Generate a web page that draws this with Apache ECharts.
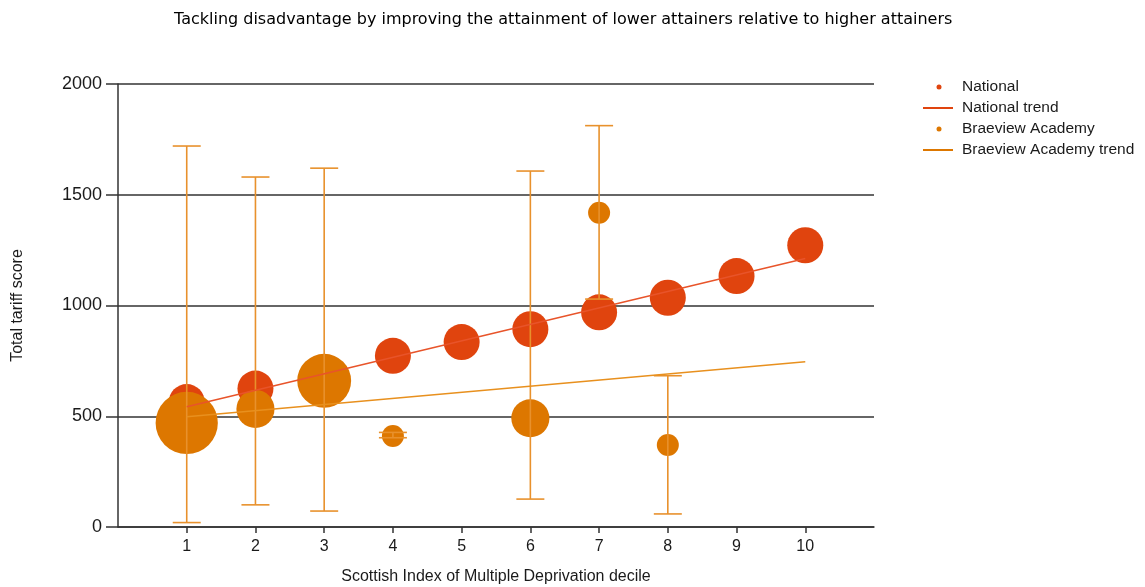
<!DOCTYPE html>
<html>
<head>
<meta charset="utf-8">
<title>Tackling disadvantage</title>
<script src="https://cdn.jsdelivr.net/npm/echarts@6/dist/echarts.min.js"></script>
<style>
  html, body { margin: 0; padding: 0; background: #ffffff; }
  #chart { width: 1145px; height: 587px; }
</style>
</head>
<body>
<div id="chart"></div>
<script>
// SIMD deciles on the x axis
const deciles = [1, 2, 3, 4, 5, 6, 7, 8, 9, 10];

// National average total tariff score per decile
const nationalScores = [564, 625, 695, 773, 835, 893, 969, 1035, 1133, 1272];

// Braeview Academy: deciles with pupils, mean score, range and pupil count
const braeviewDeciles = [1, 2, 3, 4, 6, 7, 8];
const braeviewScores  = [470, 533, 660, 411, 491, 1419, 370];
const braeviewLow     = [20, 100, 72, 403, 126, 1029, 59];
const braeviewHigh    = [1720, 1580, 1620, 427, 1607, 1812, 683];
const braeviewPupils  = [8, 3, 6, 1, 3, 1, 1];

// Linear trend lines, given by their end points at decile 1 and decile 10
const trendDeciles   = [1, 10];
const nationalTrend  = [543, 1212];
const braeviewTrend  = [498, 746];

const yTicks = [0, 500, 1000, 1500, 2000];

const RED = '#E0440E';
const ORANGE = '#DD7700';
const BAR = '#E8912C';
const FONT = '"Liberation Sans", Arial, sans-serif';

const nationalData = deciles.map((d, i) => [d, nationalScores[i]]);
const braeviewData = braeviewDeciles.map((d, i) => [d, braeviewScores[i], braeviewPupils[i]]);
const rangeData = braeviewDeciles.map((d, i) => [d, braeviewLow[i], braeviewHigh[i]]);
const nationalTrendData = trendDeciles.map((d, i) => [d, nationalTrend[i]]);
const braeviewTrendData = trendDeciles.map((d, i) => [d, braeviewTrend[i]]);

const chart = echarts.init(document.getElementById('chart'), null, { renderer: 'canvas' });

// One legend block per entry: dots for the bubble series, short lines for trends
function legendItem(name, top, isLine) {
  return {
    data: [{ name: name, icon: isLine ? 'rect' : 'circle' }],
    left: isLine ? 923 : 936.5,
    top: top,
    orient: 'vertical',
    itemWidth: isLine ? 30 : 5,
    itemHeight: isLine ? 2 : 5,
    itemGap: 0,
    padding: 0,
    selectedMode: false,
    textStyle: {
      fontFamily: FONT, fontSize: 15.5, color: '#1a1a1a',
      padding: [0, 0, 0, isLine ? 4 : 15.5]
    }
  };
}

chart.setOption({
  animation: false,
  backgroundColor: '#ffffff',
  title: {
    text: 'Tackling disadvantage by improving the attainment of lower attainers relative to higher attainers',
    left: 169,
    top: 7,
    textStyle: { fontFamily: '"DejaVu Sans", sans-serif', fontSize: 16, fontWeight: 'normal', color: '#000000' }
  },
  legend: [
    legendItem('National', 79, false),
    legendItem('National trend', 100, true),
    legendItem('Braeview Academy', 121, false),
    legendItem('Braeview Academy trend', 142, true)
  ],
  grid: {
    left: 118, right: 271, top: 84, bottom: 60,
    containLabel: false,
    outerBoundsMode: 'none'
  },
  xAxis: {
    type: 'value',
    min: 0,
    max: 11,
    interval: 1,
    name: 'Scottish Index of Multiple Deprivation decile',
    nameLocation: 'middle',
    nameGap: 42,
    nameTextStyle: { fontFamily: FONT, fontSize: 16, color: '#1a1a1a' },
    splitLine: { show: false },
    axisLine: { show: true, lineStyle: { color: '#333333', width: 1.5 } },
    axisTick: { show: true, customValues: deciles, length: 6, lineStyle: { color: '#333333', width: 1.5 } },
    axisLabel: {
      customValues: deciles,
      margin: 12,
      fontFamily: FONT, fontSize: 16, color: '#1a1a1a'
    }
  },
  yAxis: {
    type: 'value',
    min: 0,
    max: 2000,
    interval: 500,
    name: 'Total tariff score',
    nameLocation: 'middle',
    nameGap: 92,
    nameTextStyle: { fontFamily: FONT, fontSize: 16, color: '#1a1a1a' },
    axisLine: { show: true, lineStyle: { color: '#333333', width: 1.5 } },
    axisTick: { show: true, length: 12, lineStyle: { color: '#333333', width: 1.5 } },
    axisLabel: {
      margin: 16,
      fontFamily: FONT, fontSize: 18, color: '#1a1a1a',
      formatter: v => (yTicks.indexOf(v) >= 0 ? String(v) : '')
    },
    splitLine: { show: true, lineStyle: { color: '#333333', width: 1.5 } }
  },
  series: [
    {
      name: 'National',
      type: 'scatter',
      data: nationalData,
      symbolSize: 36,
      itemStyle: { color: RED, opacity: 1 },
      z: 2
    },
    {
      name: 'Braeview Academy',
      type: 'scatter',
      data: braeviewData,
      // bubble area proportional to the number of pupils
      symbolSize: v => 22 * Math.sqrt(v[2]),
      itemStyle: { color: ORANGE, opacity: 1 },
      z: 3
    },
    {
      name: 'Braeview Academy range',
      type: 'custom',
      data: rangeData,
      z: 4,
      renderItem: function (params, api) {
        const x = api.value(0);
        const lo = api.coord([x, api.value(1)]);
        const hi = api.coord([x, api.value(2)]);
        const half = 14;
        const style = { stroke: BAR, lineWidth: 1.6, fill: null };
        return {
          type: 'group',
          children: [
            { type: 'line', shape: { x1: lo[0], y1: lo[1], x2: hi[0], y2: hi[1] }, style: style },
            { type: 'line', shape: { x1: lo[0] - half, y1: lo[1], x2: lo[0] + half, y2: lo[1] }, style: style },
            { type: 'line', shape: { x1: hi[0] - half, y1: hi[1], x2: hi[0] + half, y2: hi[1] }, style: style }
          ]
        };
      }
    },
    {
      name: 'National trend',
      type: 'line',
      data: nationalTrendData,
      symbol: 'none',
      lineStyle: { color: '#E8542A', width: 1.5 },
      itemStyle: { color: RED },
      z: 5
    },
    {
      name: 'Braeview Academy trend',
      type: 'line',
      data: braeviewTrendData,
      symbol: 'none',
      lineStyle: { color: '#E8901E', width: 1.5 },
      itemStyle: { color: ORANGE },
      z: 5
    }
  ]
});
</script>
</body>
</html>
